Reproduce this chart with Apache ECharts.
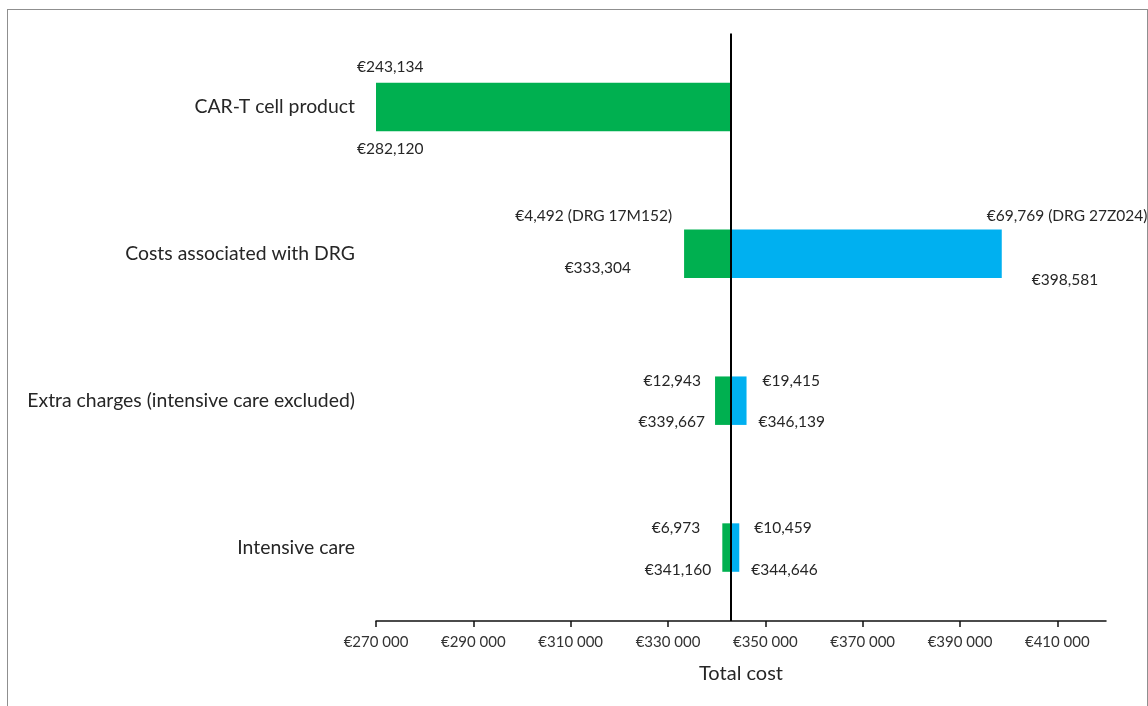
<!DOCTYPE html>
<html>
<head>
<meta charset="utf-8">
<script src="https://cdn.jsdelivr.net/npm/echarts@6/dist/echarts.min.js"></script>
<style>
  html, body { margin: 0; padding: 0; background: #fff; }
  #chart { position: absolute; left: 0; top: 0; width: 1148px; height: 706px; }
  #frame { position: absolute; left: 7px; top: 9px; width: 1139px; height: 720px; border: 1px solid #8f8f8f; pointer-events: none; }
</style>
</head>
<body>
<div id="chart"></div>
<div id="frame"></div>
<script>
// ---- data ----
const categories = ['CAR-T cell product', 'Costs associated with DRG', 'Extra charges (intensive care excluded)', 'Intensive care'];
const baseCost = 342903;
const lowTotals = [243134, 333304, 339667, 341160];
const highTotals = [null, 398581, 346139, 344646];
const lowTopLabels = ['€243,134', '€4,492 (DRG 17M152)', '€12,943', '€6,973'];
const lowBottomLabels = ['€282,120', '€333,304', '€339,667', '€341,160'];
const highTopLabels = [null, '€69,769 (DRG 27Z024)', '€19,415', '€10,459'];
const highBottomLabels = [null, '€398,581', '€346,139', '€344,646'];
const xTickValues = [270000, 290000, 310000, 330000, 350000, 370000, 390000, 410000];
const xMin = 270000, xMax = 420000;

// ---- label placement (pixel offsets from the bar's outer edge / category centre) ----
const lowLabelLayout = [
  { top: [-19, -40, 'left'], bottom: [-19, 42, 'left'] },
  { top: [-12, -38, 'right'], bottom: [-53, 14, 'right'] },
  { top: [-14, -20, 'right'], bottom: [-10, 21, 'right'] },
  { top: [-22, -20, 'right'], bottom: [-11, 22, 'right'] }
];
const highLabelLayout = [
  null,
  { top: [-15, -38, 'left'], bottom: [30, 26, 'left'] },
  { top: [16, -20, 'left'], bottom: [12, 21, 'left'] },
  { top: [15, -20, 'left'], bottom: [12, 22, 'left'] }
];

const FONT = 'Lato, "Open Sans", sans-serif';
const TEXT = '#262626';

const lowData = categories.map((c, i) => [i, lowTotals[i], baseCost]);
const highData = categories.map((c, i) => highTotals[i] == null ? null : [i, baseCost, highTotals[i]]).filter(d => d);

function makeRender(color, side, layout, topLabels, bottomLabels) {
  return function (params, api) {
    const i = api.value(0);
    const a = api.value(1), b = api.value(2);
    const p1 = api.coord([a, i]);
    const p2 = api.coord([b, i]);
    const h = api.size([0, 1])[1] * 0.33;
    const cs = params.coordSys;
    const rect = echarts.graphic.clipRectByRect(
      { x: Math.min(p1[0], p2[0]), y: p1[1] - h / 2, width: Math.abs(p2[0] - p1[0]), height: h },
      { x: cs.x, y: cs.y, width: cs.width, height: cs.height }
    );
    if (!rect) return;
    const edge = side === 'low' ? rect.x : rect.x + rect.width;
    const cy = p1[1];
    const lay = layout[i];
    const children = [{ type: 'rect', shape: rect, style: { fill: color } }];
    if (lay) {
      [['top', topLabels[i]], ['bottom', bottomLabels[i]]].forEach(([k, txt]) => {
        if (!txt) return;
        const o = lay[k];
        children.push({
          type: 'text',
          x: edge + o[0], y: cy + o[1],
          style: { text: txt, fill: TEXT, font: '15.5px ' + FONT, align: o[2], verticalAlign: 'middle' }
        });
      });
    }
    return { type: 'group', children: children };
  };
}

const chart = echarts.init(document.getElementById('chart'), null, { renderer: 'canvas' });
chart.setOption({
  animation: false,
  backgroundColor: '#fff',
  textStyle: { fontFamily: FONT },
  grid: { left: 376, right: 42, top: 33.5, bottom: 85, containLabel: false },
  xAxis: {
    type: 'value',
    min: xMin,
    max: xMax,
    name: 'Total cost',
    nameLocation: 'middle',
    nameGap: 53,
    nameTextStyle: { fontSize: 20, color: TEXT, fontFamily: FONT, verticalAlign: 'middle' },
    axisLine: { show: true, lineStyle: { color: '#111', width: 1.5 } },
    axisTick: { show: true, length: 6, lineStyle: { color: '#111', width: 1.5 }, customValues: xTickValues },
    axisLabel: {
      color: '#333', fontSize: 15, fontFamily: FONT, margin: 14,
      customValues: xTickValues,
      formatter: v => '€' + String(v).replace(/\B(?=(\d{3})+(?!\d))/g, ' ')
    },
    splitLine: { show: false }
  },
  yAxis: {
    type: 'category',
    data: categories,
    inverse: true,
    axisLine: { show: false },
    axisTick: { show: false },
    axisLabel: { color: TEXT, fontSize: 19.4, fontFamily: FONT, margin: 21 },
    splitLine: { show: false }
  },
  series: [
    {
      type: 'custom',
      name: 'low',
      renderItem: makeRender('#00B050', 'low', lowLabelLayout, lowTopLabels, lowBottomLabels),
      encode: { x: [1, 2], y: 0 },
      data: lowData,
      clip: false,
      z: 2,
      markLine: {
        silent: true,
        symbol: ['none', 'none'],
        label: { show: false },
        lineStyle: { color: '#000', width: 2, type: 'solid' },
        data: [{ xAxis: baseCost }],
        z: 5
      }
    },
    {
      type: 'custom',
      name: 'high',
      renderItem: makeRender('#00B0F0', 'high', highLabelLayout, highTopLabels, highBottomLabels),
      encode: { x: [1, 2], y: 0 },
      data: highData,
      clip: false,
      z: 2
    }
  ]
});
</script>
</body>
</html>
